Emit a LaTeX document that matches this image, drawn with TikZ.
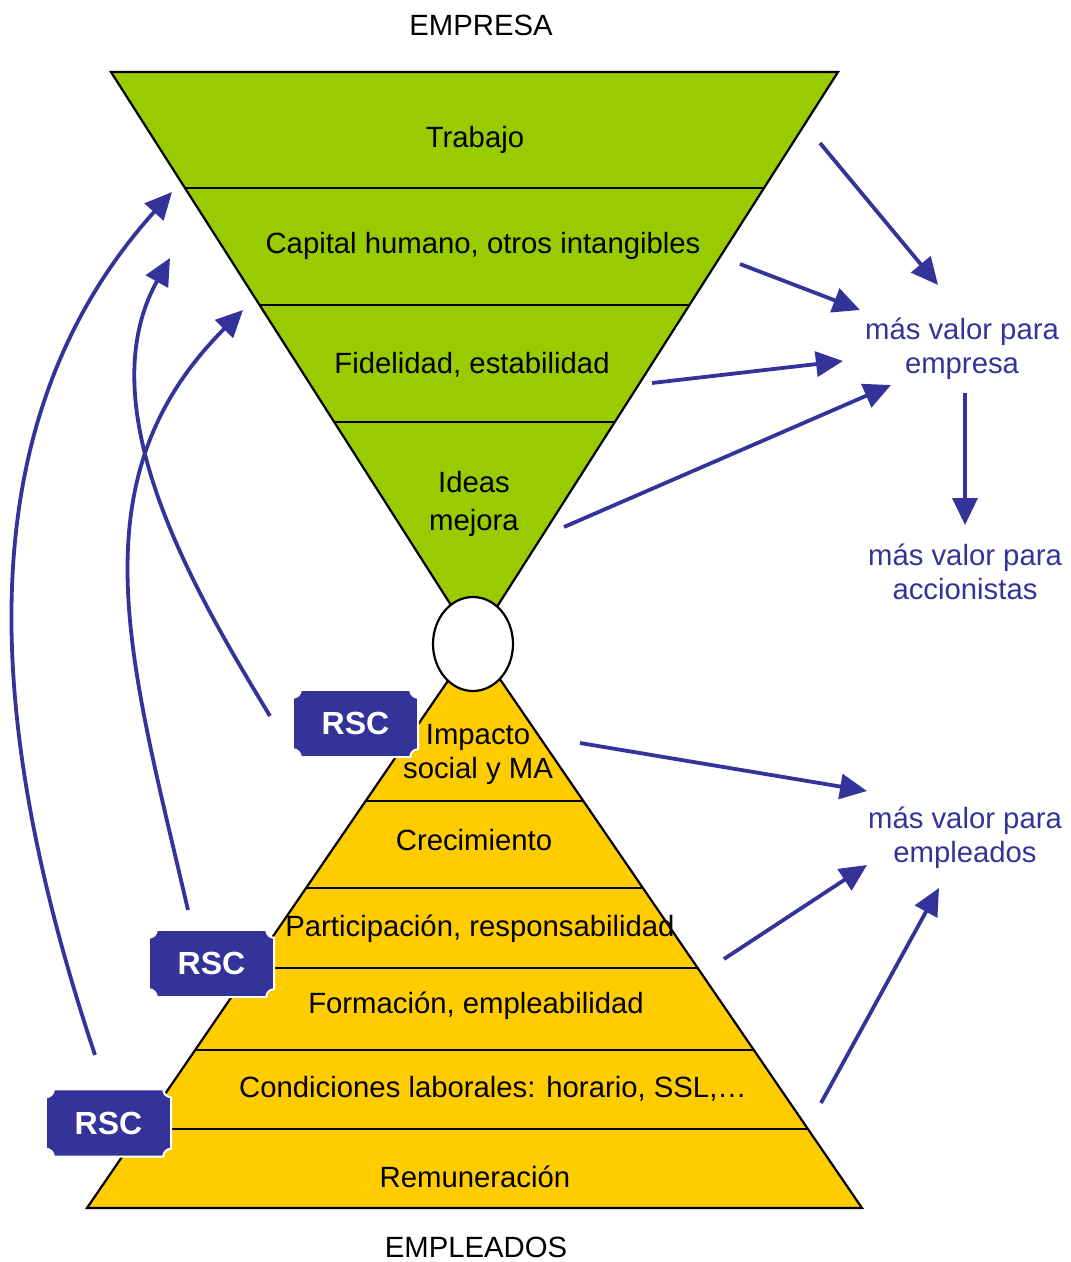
\documentclass[tikz,border=0pt]{standalone}
\usepackage{fontspec}
\setmainfont{Liberation Sans}
\usetikzlibrary{arrows.meta}
\definecolor{verde}{HTML}{99CC00}
\definecolor{amarillo}{HTML}{FFCC00}
\definecolor{azul}{HTML}{333399}
\tikzset{
  capa/.style={font=\fontsize{29.3}{34}\selectfont, align=center, inner sep=0pt},
  valor/.style={capa, text=azul},
  borde/.style={line width=2.2pt},
  flecha/.style={draw=azul, line width=3.8pt, -{Triangle[length=27pt,width=25pt]}},
  rscbox/.style={minimum width=125pt, minimum height=67pt, inner sep=0pt},
  rsctext/.style={text=white, font=\fontsize{32}{34}\selectfont\bfseries},
  placa/.style={fill=azul, draw=white, line width=2pt},
}
% RSC plaque: name, centre
\newcommand{\rscplaca}[2]{%
  \node[rscbox] (#1) at (#2) {};
  \path[placa] ([xshift=8pt]#1.north west) -- ([xshift=-8pt]#1.north east)
    arc[start angle=180,end angle=270,radius=8pt] -- ([yshift=8pt]#1.south east)
    arc[start angle=90,end angle=180,radius=8pt] -- ([xshift=8pt]#1.south west)
    arc[start angle=0,end angle=90,radius=8pt] -- ([yshift=-8pt]#1.north west)
    arc[start angle=270,end angle=360,radius=8pt] -- cycle;
  \node[rsctext] (#1t) at (#1) {RSC};
}
\begin{document}
\begin{tikzpicture}[x=1pt,y=-1pt]
  \useasboundingbox (0,0) rectangle (1071,1262);
  \pgfmathsetmacro{\cx}{474.5}
  \pgfmathsetmacro{\ya}{642}

  % Empresa (inverted triangle).
  \draw[borde, fill=verde] (111,72) -- (838,72) -- (\cx,\ya) -- cycle;
  \foreach \y in {188,305,422}
  \draw[borde] ({111+0.638*(\y-72)},\y) -- ({838-0.638*(\y-72)},\y);

  % Empleados (pyramid).
  \draw[borde, fill=amarillo] (87,1208) -- (862,1208) -- (\cx,\ya) -- cycle;
  \foreach \y in {801,888,968,1050,1129}
  \draw[borde] ({\cx-0.6846*(\y-\ya)},\y) -- ({\cx+0.6846*(\y-\ya)},\y);

  \draw[borde, fill=white] (473,644) ellipse[x radius=40pt, y radius=47pt];

  \rscplaca{rscA}{355.5,723.5}
  \rscplaca{rscB}{211.5,963.5}
  \rscplaca{rscC}{108.5,1123}

  % Texts.
  \node[capa, anchor=base] (empresa) at (481,35) {EMPRESA};
  \node[capa, anchor=base] (trabajo) at (475,147) {Trabajo};
  \node[capa, anchor=base] (capital) at (483,253) {Capital humano, otros intangibles};
  \node[capa, anchor=base] (fidelidad) at (472,373) {Fidelidad, estabilidad};
  \node[capa, font=\fontsize{29.3}{38}\selectfont] (ideas) at (474,504) {Ideas\\mejora};
  \node[capa] (impacto) at (478,754) {Impacto\\social y MA};
  \node[capa, anchor=base] (crecimiento) at (474,850) {Crecimiento};
  \node[capa, anchor=base] (participacion) at (480,936) {Participación, responsabilidad};
  \node[capa, anchor=base] (formacion) at (476,1013) {Formación, empleabilidad};
  \node[capa, anchor=base] (condiciones) at (493,1097) {Condiciones laborales: horario, SSL,…};
  \node[capa, anchor=base] (remuneracion) at (475,1187) {Remuneración};
  \node[capa, anchor=base] (empleados) at (476,1257) {EMPLEADOS};

  \node[valor] (vempresa) at (962,349) {más valor para\\empresa};
  \node[valor] (vaccion) at (965,572) {más valor para\\accionistas};
  \node[valor] (vempleo) at (965,838) {más valor para\\empleados};

  % Arrows to the right.
  \coordinate (s1) at (820,143);  \coordinate (e1) at (938,285);
  \coordinate (s2) at (740,264);  \coordinate (e2) at (860,310);
  \coordinate (s3) at (652,383);  \coordinate (e3) at (843,361);
  \coordinate (s4) at (564,527);  \coordinate (e4) at (891,385);
  \coordinate (s5) at (965,393);  \coordinate (e5) at (965,525);
  \coordinate (s6) at (580,743);  \coordinate (e6) at (867,791);
  \coordinate (s7) at (724,959);  \coordinate (e7) at (867,865);
  \coordinate (s8) at (821,1103); \coordinate (e8) at (939,888);
  \foreach \i in {1,...,8}
  \draw[flecha] (s\i) -- (e\i);

  % RSC arrows on the left.
  \coordinate (rA) at (270,716); \coordinate (tA) at (170,258);
  \coordinate (rB) at (188,910); \coordinate (tB) at (243,310);
  \coordinate (rC) at (95,1055); \coordinate (tC) at (172,192);
  \draw[flecha] (rA) .. controls (200,600) and (85,410) .. (tA);
  \draw[flecha] (rB) .. controls (130,660) and (73,480) .. (tB);
  \draw[flecha] (rC) .. controls (-10,740) and (-42,430) .. (tC);

\end{tikzpicture}
\end{document}
